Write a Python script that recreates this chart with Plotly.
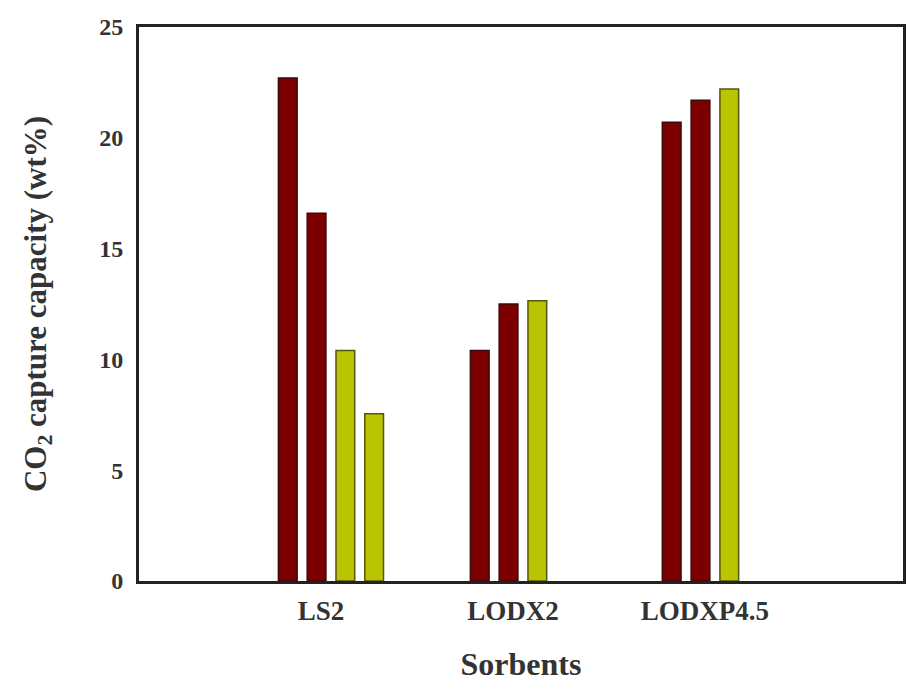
import plotly.graph_objects as go

categories = ["LS2", "LODX2", "LODXP4.5"]
series1 = [22.7, 10.4, 20.7]
series2 = [16.6, 12.5, 21.7]
series3 = [10.4, 12.65, 22.2]
series4 = [7.55, None, None]
y_ticks = [0, 5, 10, 15, 20, 25]

RED = "#7d0000"
RED_LINE = "#3b0a0a"
YEL = "#bac400"
YEL_LINE = "#55560a"

fig = go.Figure()
for vals, fill, line in [(series1, RED, RED_LINE), (series2, RED, RED_LINE),
                         (series3, YEL, YEL_LINE), (series4, YEL, YEL_LINE)]:
    fig.add_trace(go.Bar(x=categories, y=vals, marker=dict(color=fill, line=dict(color=line, width=1.5)),
                         showlegend=False))

font_family = "Liberation Serif, Times New Roman, serif"
TXT = "#333333"
fig.update_layout(
    width=908, height=693,
    margin=dict(l=139, r=5, t=27, b=112, autoexpand=False),
    barmode="group", bargap=0.4, bargroupgap=0.35,
    plot_bgcolor="white", paper_bgcolor="white",
    font=dict(family=font_family, color=TXT, size=19, weight="bold"),
    xaxis=dict(
        type="category", range=[-1.0, 2.98], automargin=False,
        showline=True, mirror=True, linecolor="#222222", linewidth=3,
        ticks="", showgrid=False, zeroline=False,
        tickfont=dict(family=font_family, size=27, weight="bold", color=TXT),
        ticklabelstandoff=4, ticklabelshift=-10,
        title=dict(text="Sorbents", font=dict(family=font_family, size=32, weight="bold", color=TXT),
                   standoff=28),
    ),
    yaxis=dict(
        range=[0, 25], tickvals=y_ticks, automargin=False,
        showline=True, mirror=True, linecolor="#222222", linewidth=3,
        ticks="", showgrid=False, zeroline=False,
        tickfont=dict(family=font_family, size=24, weight="bold", color=TXT),
        ticklabelstandoff=8,
        title=dict(text="CO<sub>2</sub> capture capacity (wt%)",
                   font=dict(family=font_family, size=31, weight="bold", color=TXT),
                   standoff=44),
    ),
)

fig.write_html("out.html", post_script="document.body.style.margin='0px';",
               config={"displayModeBar": False})
